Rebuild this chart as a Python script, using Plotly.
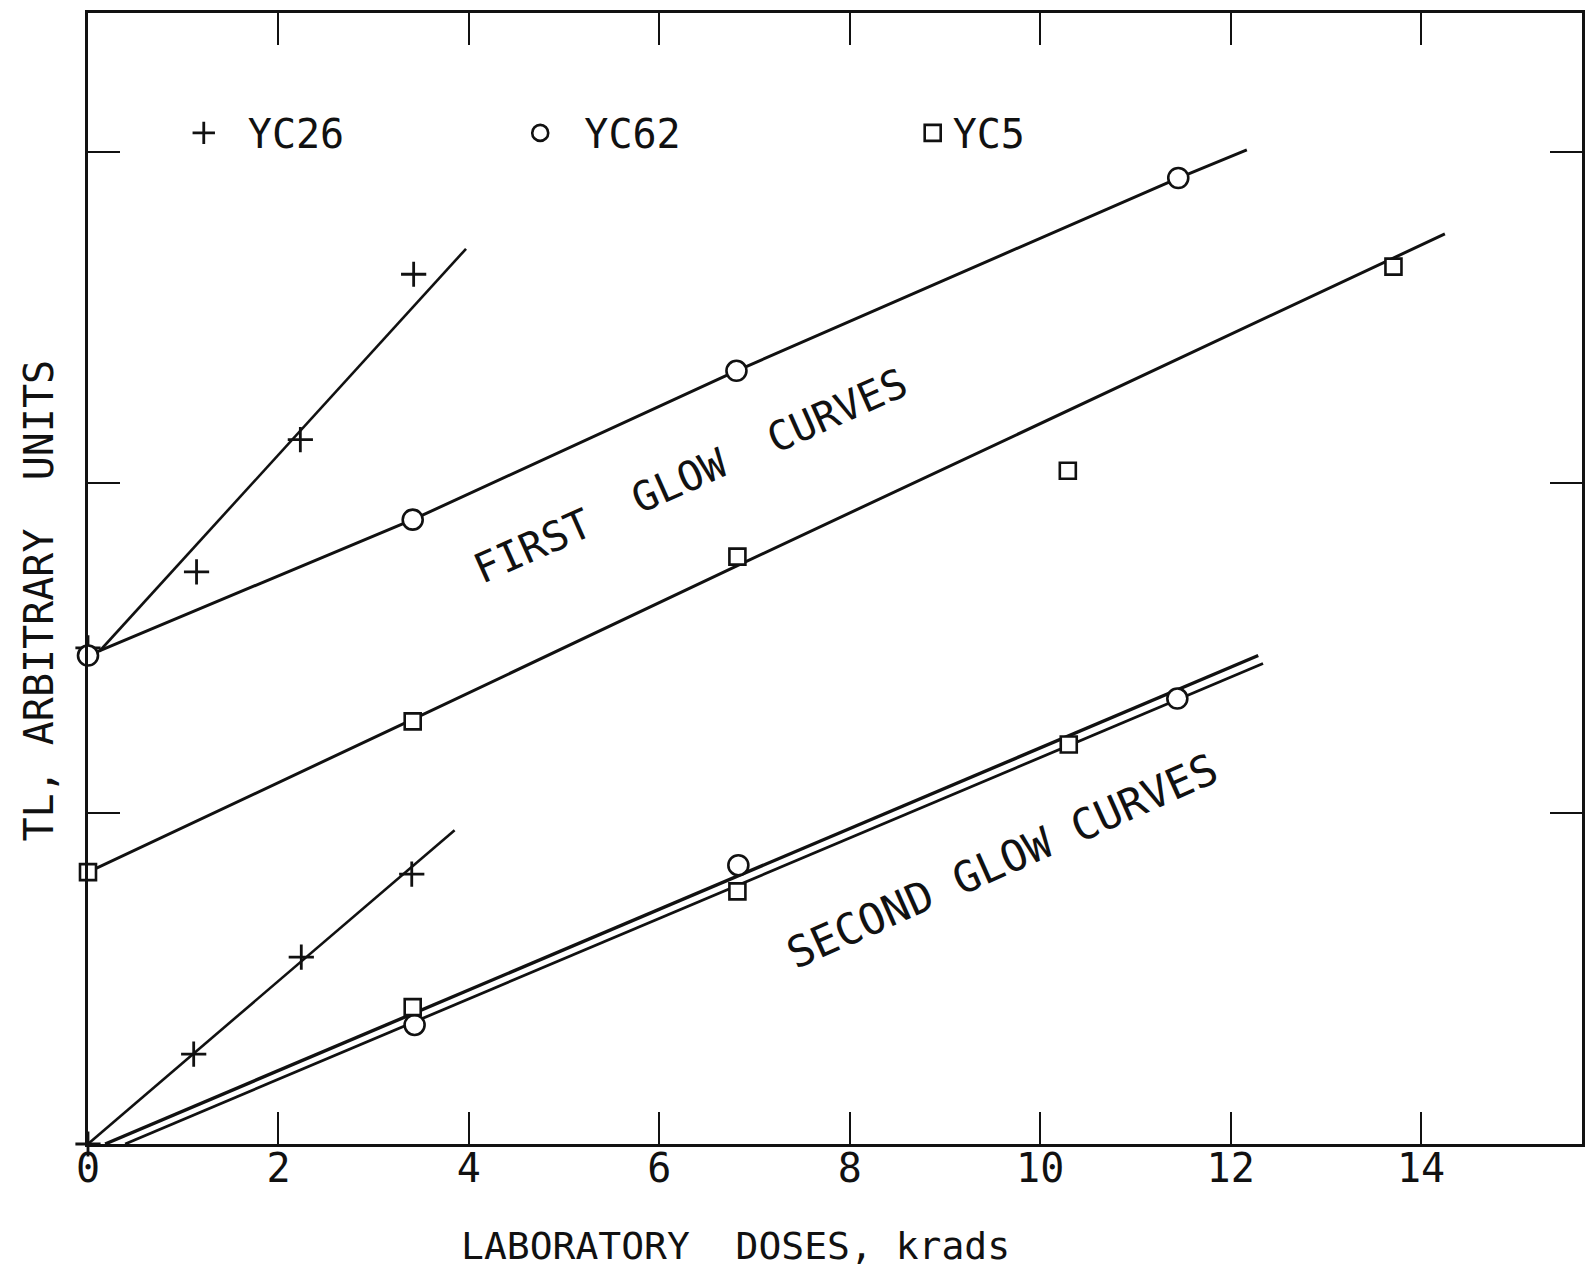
import plotly.graph_objects as go

# ---------------- data ----------------
# FIRST glow curves: measured points
yc26_first_x = [0.0, 1.14, 2.23, 3.42]
yc26_first_y = [1.50, 1.73, 2.13, 2.63]
yc62_first_x = [0.0, 3.41, 6.81, 11.45]
yc62_first_y = [1.477, 1.888, 2.338, 2.921]
yc5_first_x = [0.0, 3.41, 6.82, 10.29, 13.71]
yc5_first_y = [0.822, 1.278, 1.776, 2.036, 2.653]

# FIRST glow curves: hand-drawn fit lines
yc26_first_fit_x = [0.12, 3.97]
yc26_first_fit_y = [1.49, 2.707]
yc62_first_fit_x = [0.0, 3.41, 6.81, 11.45, 12.17]
yc62_first_fit_y = [1.477, 1.888, 2.338, 2.921, 3.006]
yc5_first_fit_x = [0.0, 3.41, 6.82, 14.25]
yc5_first_fit_y = [0.822, 1.284, 1.749, 2.752]

# SECOND glow curves: measured points
yc26_second_x = [0.0, 1.11, 2.24, 3.40]
yc26_second_y = [0.0, 0.272, 0.565, 0.816]
yc62_second_x = [3.43, 6.83, 11.44]
yc62_second_y = [0.360, 0.843, 1.347]
yc5_second_x = [3.41, 6.82, 10.30]
yc5_second_y = [0.414, 0.764, 1.208]

# SECOND glow curves: fit lines
yc26_second_fit_x = [0.0, 3.85]
yc26_second_fit_y = [0.0, 0.949]
second_upper_fit_x = [0.18, 12.29]
second_upper_fit_y = [0.0, 1.477]
second_lower_fit_x = [0.39, 12.34]
second_lower_fit_y = [0.0, 1.453]

x_ticks = [0, 2, 4, 6, 8, 10, 12, 14]
y_ticks = [1, 2, 3]
x_range = [0, 15.69]
y_range = [0, 3.42]

FONT = "DejaVu Sans Mono, Liberation Mono, monospace"
BLACK = "#111111"

fig = go.Figure()

def add_line(xs, ys, width=2.5):
    fig.add_trace(go.Scatter(x=xs, y=ys, mode="lines",
                             line=dict(color=BLACK, width=width),
                             showlegend=False, hoverinfo="skip",
                             cliponaxis=False))

add_line(yc26_first_fit_x, yc26_first_fit_y, 2.6)
add_line(yc62_first_fit_x, yc62_first_fit_y, 3.0)
add_line(yc5_first_fit_x, yc5_first_fit_y, 3.0)
add_line(yc26_second_fit_x, yc26_second_fit_y, 2.6)
add_line(second_upper_fit_x, second_upper_fit_y, 3.4)
add_line(second_lower_fit_x, second_lower_fit_y, 2.8)

plus_marker = dict(symbol="cross-thin-open", size=18, color=BLACK,
                   line=dict(color=BLACK, width=2.8))
circle_marker = dict(symbol="circle", size=20, color="white",
                     line=dict(color=BLACK, width=2.6))
square_marker = dict(symbol="square", size=16, color="white",
                     line=dict(color=BLACK, width=2.6))

# legend entries come from first-glow traces
fig.add_trace(go.Scatter(x=yc26_first_x, y=yc26_first_y, mode="markers",
                         marker=plus_marker, name="\u00a0YC26", legend="legend",
                         cliponaxis=False))
fig.add_trace(go.Scatter(x=yc62_first_x, y=yc62_first_y, mode="markers",
                         marker=circle_marker, name="\u00a0YC62", legend="legend2",
                         cliponaxis=False))
fig.add_trace(go.Scatter(x=yc5_first_x, y=yc5_first_y, mode="markers",
                         marker=square_marker, name="YC5", legend="legend3",
                         cliponaxis=False))
fig.add_trace(go.Scatter(x=yc26_second_x, y=yc26_second_y, mode="markers",
                         marker=plus_marker, showlegend=False, cliponaxis=False))
fig.add_trace(go.Scatter(x=yc62_second_x, y=yc62_second_y, mode="markers",
                         marker=circle_marker, showlegend=False, cliponaxis=False))
fig.add_trace(go.Scatter(x=yc5_second_x, y=yc5_second_y, mode="markers",
                         marker=square_marker, showlegend=False, cliponaxis=False))

axis_common = dict(showgrid=False, zeroline=False, showline=True,
                   linecolor=BLACK, linewidth=3, mirror="ticks",
                   ticks="inside", ticklen=32, tickwidth=2, tickcolor=BLACK)

fig.update_xaxes(range=x_range, tickvals=x_ticks,
                 ticktext=[str(v) for v in x_ticks],
                 tickfont=dict(family=FONT, size=40, color=BLACK),
                 ticklabelstandoff=-13,
                 **axis_common)
fig.update_yaxes(range=y_range, tickvals=y_ticks, showticklabels=False,
                 **axis_common)

leg_common = dict(font=dict(family=FONT, size=40, color=BLACK),
                  bgcolor="rgba(0,0,0,0)", yanchor="middle", xanchor="left",
                  itemsizing="trace")
fig.update_layout(
    width=1579, height=1264,
    paper_bgcolor="white", plot_bgcolor="white",
    margin=dict(l=80, r=2, t=4, b=128),
    legend=dict(x=0.0641, y=0.894, **leg_common),
    legend2=dict(x=0.2893, y=0.894, **leg_common),
    legend3=dict(x=0.552, y=0.894, **leg_common),
    annotations=[
        dict(text="LABORATORY\u00a0\u00a0DOSES,\u00a0krads", xref="paper", yref="paper",
             x=0.4335, y=-0.0901, xanchor="center", yanchor="middle",
             showarrow=False, font=dict(family=FONT, size=38, color=BLACK)),
        dict(text="TL,\u00a0ARBITRARY\u00a0\u00a0UNITS", xref="paper", yref="paper",
             x=-0.0327, y=0.4806, xanchor="center", yanchor="middle",
             textangle=-90, showarrow=False,
             font=dict(family=FONT, size=40, color=BLACK)),
        dict(text="FIRST\u00a0\u00a0GLOW\u00a0\u00a0CURVES", xref="x", yref="y",
             x=6.33, y=2.02, textangle=-24, showarrow=False,
             font=dict(family=FONT, size=41, color=BLACK)),
        dict(text="SECOND\u00a0GLOW\u00a0CURVES", xref="x", yref="y",
             x=9.60, y=0.857, textangle=-24, showarrow=False,
             font=dict(family=FONT, size=43, color=BLACK)),
    ],
)

fig.write_html("out.html")
